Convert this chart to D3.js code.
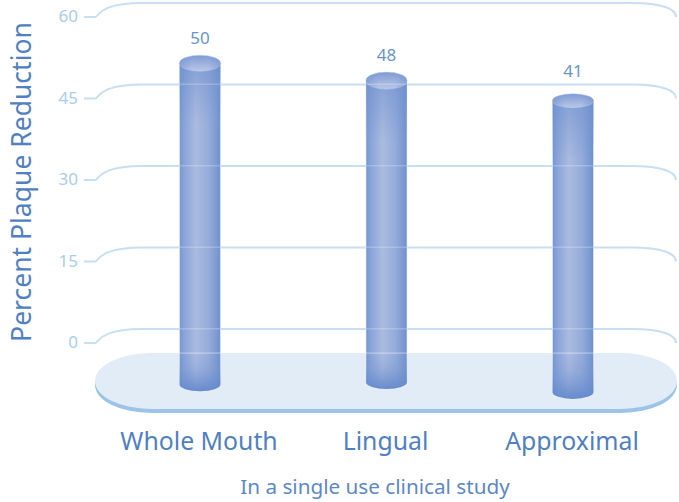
<!DOCTYPE html>
<html><head><meta charset="utf-8">
<script src="https://cdn.jsdelivr.net/npm/d3@7/dist/d3.min.js"></script>
<style>html,body{margin:0;padding:0;background:#fff}svg{display:block}</style>
</head><body><svg id="c" width="679" height="502"></svg>
<script>
const categories = ["Whole Mouth","Lingual","Approximal"];
const valueLabels = [50,48,41];
const barTops = [51.5,48.3,44.6];
const barFeet = [-7.6,-7.2,-9];
const labelAnchors = [55.1,51.9,48.9];
const tickValues = [60,45,30,15,0];
const yTitle = "Percent Plaque Reduction";
const xTitle = "In a single use clinical study";

const svg=d3.select("#c");
const y=d3.scaleLinear().domain([0,60]).range([343,17]);
const x=d3.scalePoint().domain(categories).range([200,573]);
const font="'Noto Sans',sans-serif";
const barW=41, capRy=[8,8.5,7];
const defs=svg.append("defs");
const g1=defs.append("linearGradient").attr("id","barH");
[[0,"#7595d2"],[.1,"#86a3d8"],[.4,"#abbbdf"],[.72,"#94abda"],[1,"#7091cd"]].forEach(s=>g1.append("stop").attr("offset",s[0]).attr("stop-color",s[1]));
const g2=defs.append("linearGradient").attr("id","barFoot").attr("x1",0).attr("x2",0).attr("y1",0).attr("y2",1);
[[0,"#6f90cf",0],[.4,"#6f90cf",.25],[1,"#5f86cb",.9]].forEach(s=>g2.append("stop").attr("offset",s[0]).attr("stop-color",s[1]).attr("stop-opacity",s[2]));
const g4=defs.append("linearGradient").attr("id","barHead").attr("x1",0).attr("x2",0).attr("y1",0).attr("y2",1);
[[0,"#6f90cf",.6],[1,"#6f90cf",0]].forEach(s=>g4.append("stop").attr("offset",s[0]).attr("stop-color",s[1]).attr("stop-opacity",s[2]));
const g3=defs.append("linearGradient").attr("id","cap").attr("x1",0).attr("x2",0).attr("y1",0).attr("y2",1);
[[0,"#7e9bd5"],[.35,"#94aadb"],[.7,"#a9bae1"],[1,"#b8c6e8"]].forEach(s=>g3.append("stop").attr("offset",s[0]).attr("stop-color",s[1]));
const g5=defs.append("linearGradient").attr("id","capSide");
[[0,"#6f90cf",.55],[.3,"#6f90cf",0],[.7,"#6f90cf",0],[1,"#6f90cf",.55]].forEach(s=>g5.append("stop").attr("offset",s[0]).attr("stop-color",s[1]).attr("stop-opacity",s[2]));

const gridColor="#c8def3";
const floor=(top,bot)=>{const l=95,r=677,rx=56,ry=(bot-top)/2;return `M${l+rx},${top}H${r-rx}A${rx},${ry} 0 0 1 ${r-rx},${bot}H${l+rx}A${rx},${ry} 0 0 1 ${l+rx},${top}Z`;};
svg.append("path").attr("d",floor(357,413)).attr("fill","#9cc3e8");
svg.append("path").attr("d",floor(353,409)).attr("fill","#e2ecf7");

const gridG=svg.append("g").attr("fill","none").attr("stroke",gridColor).attr("stroke-width",2);
const gp=v=>{const t=y(v);return `M84,${t}H95C99,${t} 98,${t-14} 142,${t-14}H632C662,${t-14} 676,${t-8} 676,${t}`;};
gridG.selectAll("path").data(tickValues).join("path").attr("d",gp);

const bars=svg.append("g").selectAll("g").data(categories).join("g");
const sidePath=(cx,t,b)=>`M${cx-barW/2},${t}V${b}A${barW/2},7 0 0 0 ${cx+barW/2},${b}V${t}Z`;
bars.append("path").attr("d",(d,i)=>sidePath(x(d),y(barTops[i]),y(barFeet[i]))).attr("fill","url(#barH)").attr("stroke","#e4ecf8").attr("stroke-width",.6);
bars.append("rect").attr("x",d=>x(d)-barW/2).attr("width",barW).attr("y",(d,i)=>y(barTops[i])).attr("height",60).attr("fill","url(#barHead)");
bars.append("path").attr("d",(d,i)=>{const c=x(d),b=y(barFeet[i]);return `M${c-barW/2},353V${b}A${barW/2},7 0 0 0 ${c+barW/2},${b}V353Z`;})
  .attr("fill","url(#barFoot)");
bars.append("ellipse").attr("cx",d=>x(d)).attr("cy",(d,i)=>y(barTops[i])).attr("rx",barW/2).attr("ry",(d,i)=>capRy[i]).attr("fill","url(#cap)").attr("stroke","#c3d1ee").attr("stroke-width",.5);
bars.append("ellipse").attr("cx",d=>x(d)).attr("cy",(d,i)=>y(barTops[i])).attr("rx",barW/2).attr("ry",(d,i)=>capRy[i]).attr("fill","url(#capSide)");

svg.append("g").selectAll("rect").data(categories.flatMap((c,i)=>tickValues.filter(v=>y(v)-14>y(barTops[i])).map(v=>({c,v})))).join("rect")
 .attr("x",d=>x(d.c)-barW/2).attr("width",barW).attr("y",d=>y(d.v)-15).attr("height",1.5).attr("fill","#fff").attr("opacity",.22);
svg.append("g").selectAll("rect").data(categories).join("rect").attr("x",d=>x(d)-barW/2).attr("width",barW).attr("y",352.5).attr("height",1.2).attr("fill","#fff").attr("opacity",.4);

svg.append("g").selectAll("text").data(tickValues).join("text").attr("x",78).attr("y",v=>y(v)+5).attr("text-anchor","end")
 .attr("font-family",font).attr("font-size",17).attr("fill","#a9cdee").text(d=>d);
svg.append("g").selectAll("text").data(valueLabels).join("text").attr("x",(d,i)=>x(categories[i])).attr("y",(d,i)=>y(labelAnchors[i])).attr("text-anchor","middle")
 .attr("font-family",font).attr("font-size",17).attr("fill","#6a93cf").text(d=>d);
svg.append("g").selectAll("text").data(categories).join("text").attr("x",d=>x(d)-1).attr("y",450).attr("text-anchor","middle")
 .attr("font-family",font).attr("font-size",24.8).attr("fill","#4f80c4").text(d=>d);
svg.append("text").attr("transform","translate(31,182) rotate(-90)").attr("text-anchor","middle")
 .attr("font-family",font).attr("font-size",26.5).attr("fill","#4f80c4").text(yTitle);
svg.append("text").attr("x",375).attr("y",494).attr("text-anchor","middle")
 .attr("font-family",font).attr("font-size",20.7).attr("fill","#5b88c8").text(xTitle);
</script></body></html>
